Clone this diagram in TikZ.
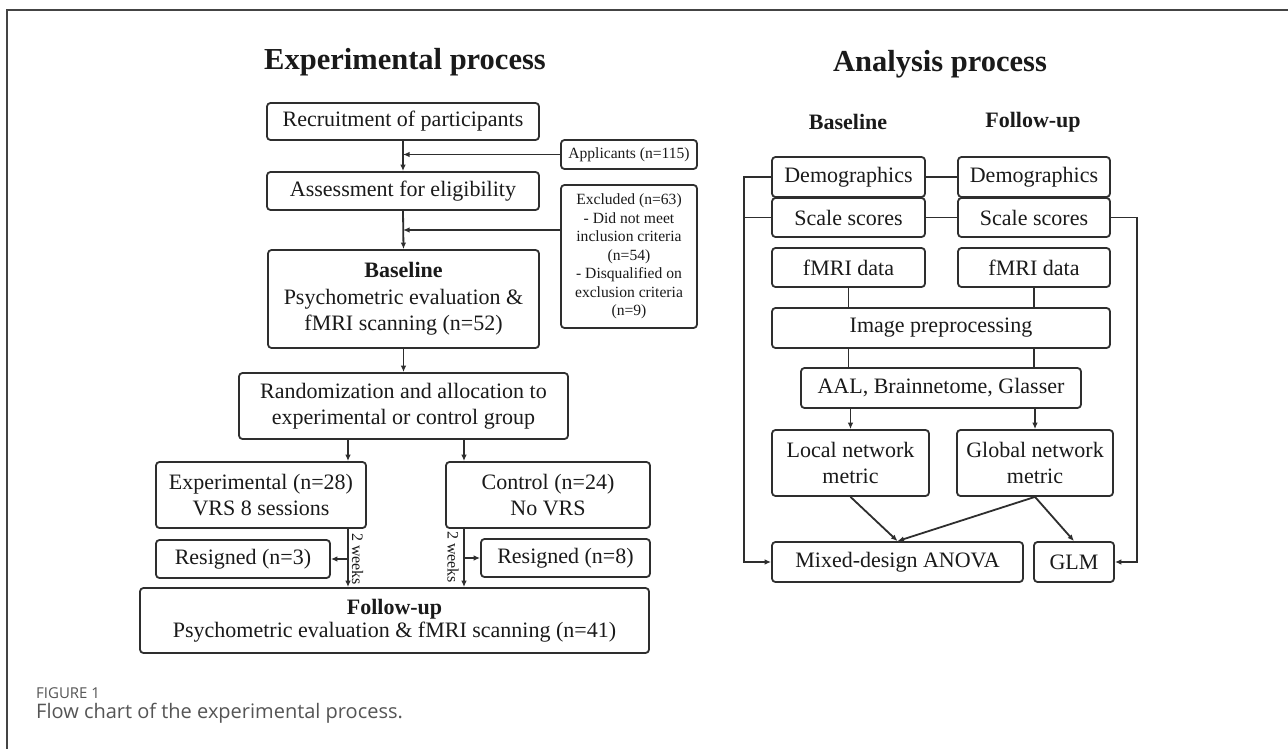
\documentclass[tikz,border=0pt]{standalone}
\usepackage{fontspec}
\setmainfont{Liberation Serif}
\newfontfamily\capfont{Open Sans}
\usetikzlibrary{arrows.meta,calc}
\definecolor{ln}{HTML}{2E2E2E}
\definecolor{txt}{HTML}{1A1A1A}
\definecolor{capgray}{HTML}{555555}
\definecolor{frame}{HTML}{444444}
\begin{document}
\begin{tikzpicture}[x=1pt,y=-1pt,
  bx/.style={draw=ln, line width=1.8pt, rounded corners=3.5pt, align=center,
    inner sep=0pt, text=txt, font=\fontsize{22}{26.5}\selectfont},
  smallbx/.style={bx, font=\fontsize{15.6}{18.5}\selectfont},
  conn/.style={draw=ln, line width=1.8pt},
  arr/.style={conn, -{Latex[length=6.5pt,width=5.5pt]}},
  ttl/.style={text=txt, font=\fontsize{30.5}{34}\selectfont\bfseries, inner sep=0pt},
  hdr/.style={text=txt, font=\fontsize{22}{26}\selectfont\bfseries, inner sep=0pt},
  wk/.style={text=txt, font=\fontsize{16}{18}\selectfont, inner sep=0pt, rotate=-90}
]
\useasboundingbox (0,0) rectangle (1288,749);
\fill[white] (0,0) rectangle (1288,749);
% frame
\draw[frame, line width=1.8pt] (7,749) -- (7,10) -- (1288,10);

% titles
\node[ttl] (t1) at (405,62) {Experimental process};
\node[ttl] (t2) at (940,64) {Analysis process};

% ---------- left panel ----------
\node[bx, minimum width=272, minimum height=37] (rec) at (403,121.5) {Recruitment of participants};
\node[smallbx, minimum width=136, minimum height=29] (app) at (629,154.5) {Applicants (n=115)};
\node[bx, minimum width=272, minimum height=38] (ass) at (403,191) {Assessment for eligibility};
\node[smallbx, minimum width=136, minimum height=143] (exc) at (629,256.5)
  {Excluded (n=63)\\- Did not meet\\inclusion criteria\\(n=54)\\- Disqualified on\\exclusion criteria\\(n=9)};
\node[bx, minimum width=271, minimum height=98] (base) at (403.5,299)
  {\textbf{Baseline}\\Psychometric evaluation \&\\fMRI scanning (n=52)};
\node[bx, minimum width=329, minimum height=66] (rand) at (403.5,406)
  {Randomization and allocation to\\experimental or control group};
\node[bx, minimum width=210, minimum height=66] (expt) at (261,495)
  {Experimental (n=28)\\VRS 8 sessions};
\node[bx, minimum width=204, minimum height=66] (ctrl) at (548,495)
  {Control (n=24)\\No VRS};
\node[bx, minimum width=174, minimum height=38] (res3) at (243,559) {Resigned (n=3)};
\node[bx, minimum width=169, minimum height=38] (res8) at (565.5,558) {Resigned (n=8)};
\node[bx, minimum width=509, minimum height=65, font=\fontsize{22}{23}\selectfont] (fu) at (394.5,620.5)
  {\textbf{Follow-up}\\Psychometric evaluation \& fMRI scanning (n=41)};

\coordinate (ea) at (403,154.5);
\coordinate (eb) at (403,230);
\coordinate (xa) at (348,500);
\coordinate (xb) at (464,500);

\draw[arr] (rec.south) -- (ass.north);
\draw[arr] (app.west) -- (ea);
\draw[arr] (ass.south) -- (base.north);
\draw[arr] (eb -| exc.west) -- (eb);
\draw[arr] (base.south) -- (rand.north -| base.south);
\draw[arr] (xa |- rand.south) -- (xa |- expt.north);
\draw[arr] (xb |- rand.south) -- (xb |- ctrl.north);
\draw[arr] (xa |- expt.south) -- (xa |- fu.north);
\draw[arr] (xb |- ctrl.south) -- (xb |- fu.north);
\draw[arr] (xa |- res3.east) -- (res3.east);
\draw[arr] (xb |- res8.west) -- (res8.west);
\node[wk] (w1) at (357.5,559) {2 weeks};
\node[wk] (w2) at (453,557) {2 weeks};

% ---------- right panel ----------
\node[hdr] (hb) at (848,122) {Baseline};
\node[hdr] (hf) at (1033,122) {Follow-up};

\node[bx, minimum width=153, minimum height=40] (demB) at (848.5,177) {Demographics};
\node[bx, minimum width=153, minimum height=39] (scB) at (848.5,217.5) {Scale scores};
\node[bx, minimum width=152, minimum height=40] (demF) at (1034,177) {Demographics};
\node[bx, minimum width=152, minimum height=39] (scF) at (1034,217.5) {Scale scores};
\node[bx, minimum width=153, minimum height=39] (fmB) at (848.5,267.5) {fMRI data};
\node[bx, minimum width=152, minimum height=39] (fmF) at (1034,267.5) {fMRI data};
\node[bx, minimum width=338, minimum height=40] (pre) at (941,328) {Image preprocessing};
\node[bx, minimum width=280, minimum height=40] (aal) at (941,388) {AAL, Brainnetome, Glasser};
\node[bx, minimum width=157, minimum height=66] (loc) at (850.5,463) {Local network\\metric};
\node[bx, minimum width=156, minimum height=66] (glo) at (1035,463) {Global network\\metric};
\node[bx, minimum width=251, minimum height=40] (anova) at (897.5,562) {Mixed-design ANOVA};
\node[bx, minimum width=80, minimum height=40] (glm) at (1074,562) {GLM};

\coordinate (lb) at (744,400);
\coordinate (rb) at (1137,400);

\draw[conn] (demB.east) -- (demF.west);
\draw[conn] (scB.east) -- (scF.west);
\draw[arr] (demB.west) -- (lb |- demB.west) |- (anova.west);
\draw[conn] (scB.west) -- (lb |- scB.west);
\draw[arr] (scF.east) -- (rb |- scF.east) |- (glm.east);
\draw[conn] (fmB.south) -- (fmB.south |- pre.north);
\draw[conn] (fmF.south) -- (fmF.south |- pre.north);
\draw[conn] (pre.south -| fmB.south) -- (aal.north -| fmB.south);
\draw[conn] (pre.south -| fmF.south) -- (aal.north -| fmF.south);
\draw[arr] (aal.south -| loc.north) -- (loc.north);
\draw[arr] (aal.south -| glo.north) -- (glo.north);
\draw[arr] (loc.south) -- (anova.north);
\draw[arr] (glo.south) -- (anova.north);
\draw[arr] (glo.south) -- (glm.north);

% caption
\node[anchor=base west, inner sep=0pt, text=capgray, font=\capfont\fontsize{15}{18}\selectfont] (cap1) at (36,698) {FIGURE 1};
\node[anchor=base west, inner sep=0pt, text=capgray, font=\capfont\fontsize{20}{24}\selectfont] (cap2) at (36,718) {Flow chart of the experimental process.};
\end{tikzpicture}
\end{document}
